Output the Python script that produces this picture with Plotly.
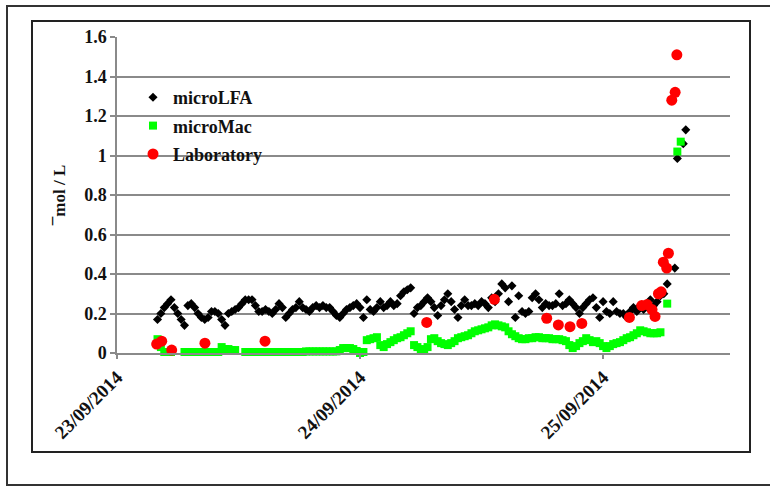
import pandas as pd
import plotly.graph_objects as go

# ---- data -------------------------------------------------------------
# On-line analysers sample every 20 minutes from 23/09/2014 04:00
sample_start = "2014-09-23 04:00"
sample_step = "20min"

lfa_values = [
    0.17, 0.20, 0.23, 0.25, 0.27, 0.23, 0.20, 0.17, 0.14, 0.24,
    0.25, 0.23, 0.20, 0.18, 0.17, 0.18, 0.21, 0.21, 0.20, 0.17,
    0.14, 0.20, 0.21, 0.22, 0.23, 0.25, 0.27, 0.27, 0.27, 0.24,
    0.21, 0.21, 0.22, 0.21, 0.20, 0.22, 0.25, 0.23, 0.18, 0.20,
    0.22, 0.23, 0.26, 0.23, 0.22, 0.21, 0.23, 0.24, 0.23, 0.24,
    0.23, 0.23, 0.21, 0.19, 0.18, 0.20, 0.22, 0.23, 0.24, 0.25,
    0.23, 0.18, 0.27, 0.22, 0.21, 0.23, 0.26, 0.23, 0.24, 0.26,
    0.24, 0.25, 0.29, 0.31, 0.32, 0.33, 0.20, 0.23, 0.24, 0.26,
    0.28, 0.26, 0.23, 0.19, 0.24, 0.27, 0.30, 0.26, 0.22, 0.18,
    0.24, 0.27, 0.24, 0.24, 0.25, 0.24, 0.26, 0.25, 0.23, 0.28,
    0.26, 0.30, 0.35, 0.33, 0.26, 0.34, 0.18, 0.29, 0.21, 0.20,
    0.21, 0.28, 0.30, 0.27, 0.23, 0.25, 0.24, 0.24, 0.25, 0.30,
    0.24, 0.25, 0.27, 0.25, 0.23, 0.20, 0.23, 0.25, 0.27, 0.28,
    0.23, 0.18, 0.26, 0.21, 0.20, 0.26, 0.21, 0.20, 0.20, 0.18,
    0.21, 0.23, 0.21, 0.24, 0.22, 0.25, 0.27, 0.24, 0.26, 0.29,
    0.30, 0.35,
]

mac_values = [
    0.07, 0.03, 0.005, 0.005, 0.005, None, None, None, 0.005, 0.005,
    0.005, 0.005, 0.005, 0.005, 0.005, 0.005, 0.005, 0.005, 0.005, 0.03,
    0.02, 0.02, 0.015, 0.015, None, None, 0.005, 0.005, 0.005, 0.005,
    0.005, 0.005, 0.005, 0.005, 0.005, 0.005, 0.005, 0.005, 0.005, 0.005,
    0.005, 0.005, 0.005, 0.005, 0.008, 0.008, 0.008, 0.008, 0.008, 0.008,
    0.008, 0.008, 0.008, 0.008, 0.015, 0.025, 0.025, 0.025, 0.02, 0.01,
    0.0, 0.005, 0.065, 0.07, 0.075, 0.08, 0.04, 0.03, 0.045, 0.055,
    0.065, 0.075, 0.08, 0.09, 0.10, 0.11, 0.04, 0.03, 0.02, 0.015,
    0.03, 0.07, 0.075, 0.06, 0.05, 0.045, 0.04, 0.05, 0.06, 0.075,
    0.08, 0.085, 0.09, 0.10, 0.11, 0.115, 0.12, 0.125, 0.13, 0.14,
    0.145, 0.14, 0.135, 0.13, 0.11, 0.095, 0.085, 0.075, 0.07, 0.07,
    0.075, 0.075, 0.08, 0.08, 0.075, 0.075, 0.075, 0.07, 0.07, 0.07,
    0.065, 0.06, 0.04, 0.025, 0.035, 0.05, 0.06, 0.075, 0.065, 0.055,
    0.06, 0.05, 0.035, 0.025, 0.035, 0.045, 0.05, 0.055, 0.065, 0.075,
    0.08, 0.09, 0.10, 0.115, 0.11, 0.105, 0.10, 0.10, 0.10, 0.105,
    None, 0.25,
]

# Readings logged outside the regular schedule at the end of the run
lfa_tail_times = ["2014-09-25 07:05", "2014-09-25 07:20",
                  "2014-09-25 07:55", "2014-09-25 08:10"]
lfa_tail_values = [0.43, 0.985, 1.06, 1.13]

mac_tail_times = ["2014-09-25 07:20", "2014-09-25 07:40"]
mac_tail_values = [1.02, 1.07]

lab_times = [
    "2014-09-23 03:55", "2014-09-23 04:25", "2014-09-23 05:24",
    "2014-09-23 08:41", "2014-09-23 14:37", "2014-09-24 06:35",
    "2014-09-24 13:16", "2014-09-24 18:26", "2014-09-24 19:35",
    "2014-09-24 20:44", "2014-09-24 21:54", "2014-09-25 02:36",
    "2014-09-25 03:49", "2014-09-25 04:21", "2014-09-25 04:50",
    "2014-09-25 05:08", "2014-09-25 05:28", "2014-09-25 05:44",
    "2014-09-25 05:57", "2014-09-25 06:17", "2014-09-25 06:27",
    "2014-09-25 06:47", "2014-09-25 07:07", "2014-09-25 07:17",
]
lab_values = [
    0.045, 0.06, 0.015, 0.05, 0.06, 0.155,
    0.272, 0.176, 0.142, 0.133, 0.15, 0.18,
    0.24, 0.245, 0.22, 0.185, 0.30, 0.31,
    0.46, 0.43, 0.505, 1.28, 1.32, 1.51,
]

date_ticks = ["2014-09-23", "2014-09-24", "2014-09-25"]
date_labels = ["23/09/2014", "24/09/2014", "25/09/2014"]
y_ticks = [0, 0.2, 0.4, 0.6, 0.8, 1.0, 1.2, 1.4, 1.6]
y_labels = ["0", "0.2", "0.4", "0.6", "0.8", "1", "1.2", "1.4", "1.6"]

# ---- figure -----------------------------------------------------------
W, H = 770, 487
L, R, T, B = 117, 730, 37, 353          # plot area in pixels

def px_x(x):
    return (x - L) / (R - L)

def px_y(y):
    return (B - y) / (B - T)

sched = pd.date_range(sample_start, periods=len(lfa_values), freq=sample_step)
lfa_x = list(sched) + list(pd.to_datetime(lfa_tail_times))
lfa_y = lfa_values + lfa_tail_values
mac_x = list(sched) + list(pd.to_datetime(mac_tail_times))
mac_y = mac_values + mac_tail_values

serif = "Liberation Serif"
grid = "#8a8a8a"
ink = "#111111"

fig = go.Figure()
fig.add_trace(go.Scatter(
    x=lfa_x, y=lfa_y, mode="markers", name="microLFA", legendgroup="a",
    marker=dict(symbol="diamond", size=7, color="black"), cliponaxis=False))
fig.add_trace(go.Scatter(
    x=mac_x, y=mac_y, mode="markers", name="microMac", legendgroup="b",
    marker=dict(symbol="square", size=8, color="#00ff00"), cliponaxis=False))
fig.add_trace(go.Scatter(
    x=pd.to_datetime(lab_times), y=lab_values, mode="markers",
    name="Laboratory", legendgroup="c",
    marker=dict(symbol="circle", size=11, color="#ff0000"), cliponaxis=False))

fig.update_layout(
    width=W, height=H,
    margin=dict(l=L, r=W - R, t=T, b=H - B, pad=0),
    paper_bgcolor="white", plot_bgcolor="white",
    font=dict(family=serif, size=17, color=ink, weight="bold"),
    showlegend=True,
    legend=dict(x=px_x(133), y=px_y(79), xanchor="left", yanchor="top",
                bgcolor="rgba(0,0,0,0)", borderwidth=0,
                tracegroupgap=2, traceorder="grouped",
                font=dict(family=serif, size=18, color=ink, weight="bold")),
    xaxis=dict(
        type="date",
        range=["2014-09-23 00:00", "2014-09-25 12:32"],
        tickvals=date_ticks, ticktext=date_labels, tickangle=-45,
        tickfont=dict(family=serif, size=19, color=ink, weight="bold"),
        showgrid=False, zeroline=False,
        showline=True, linecolor=grid, linewidth=1.5,
        ticks="outside", ticklen=4, tickcolor=grid, tickwidth=1.5,
    ),
    yaxis=dict(
        range=[0, 1.6], tickvals=y_ticks, ticktext=y_labels,
        tickfont=dict(family=serif, size=18, color=ink, weight="bold"),
        showgrid=True, gridcolor=grid, gridwidth=1.5, zeroline=False,
        showline=True, linecolor=grid, linewidth=1.5,
        ticks="outside", ticklen=5, tickcolor=grid, tickwidth=1.5,
        title=dict(text="¯mol / L", standoff=14,
                   font=dict(family=serif, size=17, color=ink, weight="bold")),
    ),
    shapes=[
        # outer page frame
        dict(type="rect", xref="paper", yref="paper", layer="below",
             x0=px_x(7), x1=px_x(790), y0=px_y(485), y1=px_y(6),
             line=dict(color="#333333", width=2), fillcolor="rgba(0,0,0,0)"),
        # chart frame
        dict(type="rect", xref="paper", yref="paper", layer="below",
             x0=px_x(32), x1=px_x(750), y0=px_y(452), y1=px_y(21),
             line=dict(color="#222222", width=2), fillcolor="rgba(0,0,0,0)"),
        # legend background hides the gridlines behind it
        dict(type="rect", xref="paper", yref="paper", layer="between",
             x0=0.002, x1=px_x(297), y0=px_y(166), y1=px_y(84),
             line=dict(width=0), fillcolor="white"),
    ],
)

fig.write_html("out.html")
